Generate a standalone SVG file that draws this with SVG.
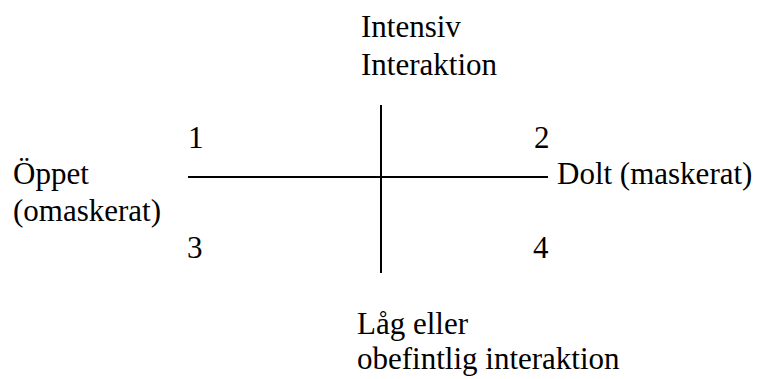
<svg xmlns="http://www.w3.org/2000/svg" width="761" height="379" viewBox="0 0 761 379">
<style>
text { font-family: "Liberation Serif", "Times New Roman", serif; font-size: 31px; fill: #000; }
.ax { stroke: #000; stroke-width: 2; fill: none; }
</style>
<rect width="761" height="379" fill="#fff"/>
<g id="connectors">
<line class="ax" x1="381" y1="105" x2="381" y2="273"/>
<line class="ax" x1="188" y1="177" x2="548" y2="177"/>
</g>
<g id="top"><text x="361" y="37">Intensiv</text><text x="361" y="75">Interaktion</text></g>
<g id="left"><text x="13" y="184">Öppet</text><text x="13" y="221">(omaskerat)</text></g>
<g id="right"><text x="557" y="184">Dolt (maskerat)</text></g>
<g id="bottom"><text x="357" y="334">Låg eller</text><text x="357" y="369">obefintlig interaktion</text></g>
<g id="q1"><text x="188" y="148">1</text></g>
<g id="q2"><text x="534" y="148">2</text></g>
<g id="q3"><text x="187" y="258">3</text></g>
<g id="q4"><text x="533" y="258">4</text></g>
</svg>
